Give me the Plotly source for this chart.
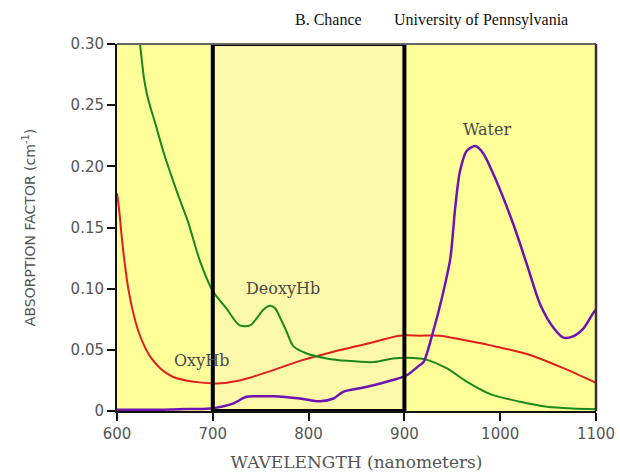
import plotly.graph_objects as go

# DeoxyHb (green)
deoxy_x = [624, 626, 628, 631, 635, 640, 648, 656, 664, 674, 686, 700, 714, 728, 739, 746, 753, 760, 765, 771, 777, 784, 798, 819, 840, 868, 888, 902, 916, 923, 944, 965, 989, 1021, 1049, 1075, 1100]
deoxy_y = [0.300, 0.286, 0.273, 0.260, 0.248, 0.235, 0.213, 0.194, 0.176, 0.155, 0.124, 0.098, 0.084, 0.070, 0.070, 0.076, 0.083, 0.086, 0.084, 0.075, 0.065, 0.053, 0.047, 0.043, 0.041, 0.040, 0.043, 0.0436, 0.043, 0.042, 0.035, 0.024, 0.014, 0.0075, 0.0034, 0.002, 0.0015]

# OxyHb (red)
oxy_x = [600, 602, 605, 608, 612, 617, 622, 628, 635, 645, 658, 672, 686, 704, 728, 756, 791, 826, 861, 895, 916, 937, 962, 996, 1031, 1066, 1100]
oxy_y = [0.178, 0.166, 0.142, 0.121, 0.099, 0.080, 0.066, 0.054, 0.044, 0.035, 0.028, 0.025, 0.0234, 0.0225, 0.025, 0.0316, 0.041, 0.0485, 0.055, 0.0616, 0.0616, 0.0616, 0.058, 0.0526, 0.0458, 0.035, 0.023]

# Water (purple)
water_x = [600, 640, 665, 697, 721, 735, 750, 763, 791, 812, 826, 836, 861, 888, 902, 916, 920, 930, 939, 948, 953, 958, 965, 974, 982, 996, 1014, 1028, 1042, 1056, 1066, 1076, 1087, 1097, 1100]
water_y = [0.001, 0.001, 0.0015, 0.002, 0.006, 0.0116, 0.012, 0.012, 0.0102, 0.008, 0.0102, 0.0157, 0.0198, 0.0253, 0.029, 0.0375, 0.040, 0.065, 0.092, 0.125, 0.166, 0.196, 0.2125, 0.2166, 0.211, 0.188, 0.152, 0.1195, 0.0867, 0.0676, 0.060, 0.061, 0.0676, 0.080, 0.083]

x_ticks = [600, 700, 800, 900, 1000, 1100]
y_ticks = [0, 0.05, 0.10, 0.15, 0.20, 0.25, 0.30]
y_tick_text = ["0", "0.05", "0.10", "0.15", "0.20", "0.25", "0.30"]

labels = ["Water", "DeoxyHb", "OxyHb"]
label_x = [986, 773, 688]
label_y = [0.2305, 0.100, 0.041]

window = [700, 900]

fig = go.Figure()
fig.add_trace(go.Scatter(x=oxy_x, y=oxy_y, mode="lines", line=dict(color="#E01E1E", width=2, shape="spline", smoothing=0.8)))
fig.add_trace(go.Scatter(x=deoxy_x, y=deoxy_y, mode="lines", line=dict(color="#1A881A", width=2, shape="spline", smoothing=0.8)))
fig.add_trace(go.Scatter(x=water_x, y=water_y, mode="lines", line=dict(color="#7014B0", width=2.5, shape="spline", smoothing=0.8)))

# window rectangle (fill below, border above)
fig.add_shape(type="rect", x0=window[0], x1=window[1], y0=0, y1=0.30, xref="x", yref="y",
              fillcolor="#FCF8AA", line=dict(width=0), layer="below")
fig.add_shape(type="rect", x0=window[0], x1=window[1], y0=0, y1=0.30, xref="x", yref="y",
              fillcolor="rgba(0,0,0,0)", line=dict(color="black", width=4), layer="above")

for t, lx, ly in zip(labels, label_x, label_y):
    fig.add_annotation(x=lx, y=ly, text=t, showarrow=False,
                       font=dict(family="DejaVu Serif", size=16, color="#4a4a4a"))

fig.add_annotation(xref="paper", yref="paper", x=0.515, y=1.095, xanchor="right", text="B. Chance",
                   showarrow=False, font=dict(family="Liberation Serif", size=16, color="#111"))
fig.add_annotation(xref="paper", yref="paper", x=0.574, y=1.095, xanchor="left", text="University of Pennsylvania",
                   showarrow=False, font=dict(family="Liberation Serif", size=16, color="#111"))

fig.update_layout(
    width=620, height=472,
    margin=dict(l=117, r=24, t=44, b=61),
    paper_bgcolor="white",
    plot_bgcolor="#FFFF99",
    showlegend=False,
    xaxis=dict(range=[600, 1100], tickvals=x_ticks, showgrid=False, zeroline=False, automargin=False,
               showline=True, linecolor="#111", linewidth=2, mirror=False,
               ticks="outside", ticklen=8, tickwidth=2, tickcolor="#111",
               tickfont=dict(family="DejaVu Sans", size=15, color="#555"),
               title=dict(text="WAVELENGTH (nanometers)", standoff=14,
                          font=dict(family="DejaVu Serif", size=17, color="#555"))),
    yaxis=dict(range=[0, 0.30], tickvals=y_ticks, ticktext=y_tick_text, showgrid=False, zeroline=False, automargin=False,
               showline=True, linecolor="#111", linewidth=2,
               ticks="outside", ticklen=8, tickwidth=2, tickcolor="#111",
               tickfont=dict(family="DejaVu Sans", size=15, color="#555"),
               title=dict(text="ABSORPTION FACTOR (cm<sup>-1</sup>)", standoff=32,
                          font=dict(family="DejaVu Sans", size=14, color="#555"))),
)

# top and right frame lines
fig.add_shape(type="line", xref="paper", yref="paper", x0=0, x1=1, y0=1, y1=1, line=dict(color="#666", width=2))
fig.add_shape(type="line", xref="paper", yref="paper", x0=1, x1=1, y0=0, y1=1, line=dict(color="#333", width=2.5))

fig.write_html("out.html")
